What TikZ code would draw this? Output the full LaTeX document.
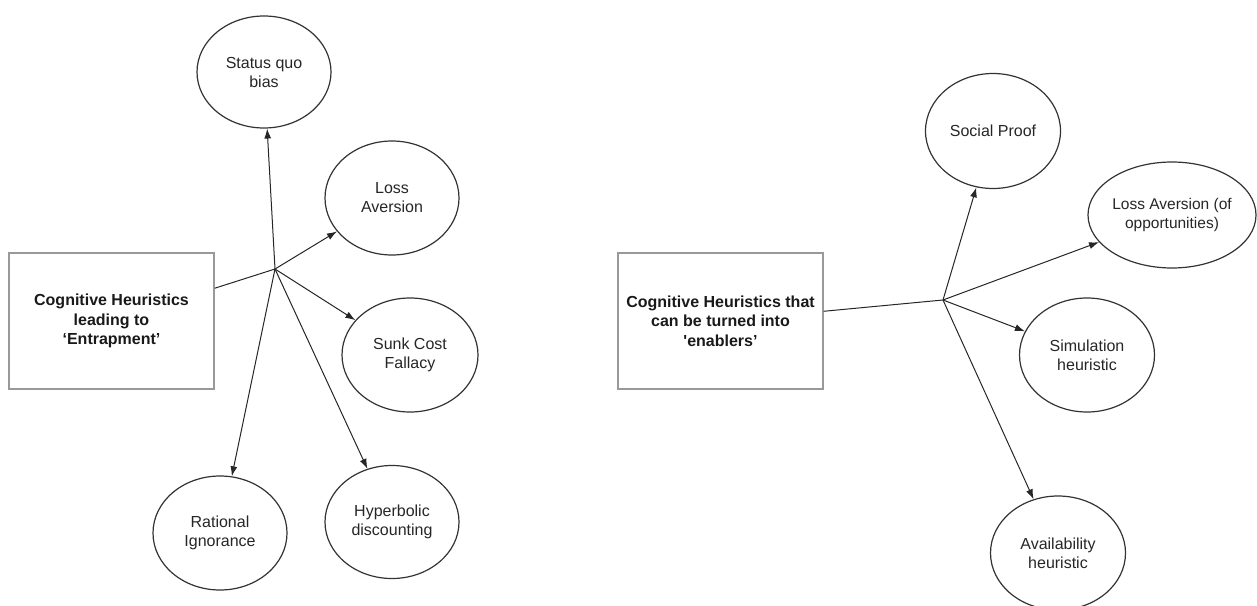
\documentclass[tikz,border=0pt]{standalone}
\usepackage{fontspec}
\setmainfont{Liberation Sans}
\usetikzlibrary{shapes.geometric,arrows.meta}

\begin{document}
\begin{tikzpicture}[x=1pt,y=-1pt,font=\fontsize{16}{19}\selectfont,
    heur/.style={draw=black!80,line width=1.2pt,ellipse,inner sep=0pt,align=center,text=black!85,minimum width=134pt,minimum height=114pt},
    groupbox/.style={draw=black!40,line width=1.4pt,minimum width=205pt,minimum height=136pt,align=center,font=\fontsize{16}{19.5}\selectfont\bfseries,text=black!90},
    arr/.style={-{Latex[length=10pt,width=7pt]},line width=1pt,black!85}]
      \useasboundingbox (0,0) rectangle (1257,605);
      % left group
      \node[groupbox] (entr) at (111.5,321) {Cognitive Heuristics\\leading to\\`Entrapment'};
      \coordinate (hubL) at (275,269);
      \node[heur,minimum height=112pt] (sqb) at (264,72) {Status quo\\bias};
      \node[heur] (loss) at (392,198) {Loss\\Aversion};
      \node[heur,minimum width=136pt] (sunk) at (410,355) {Sunk Cost\\Fallacy};
      \node[heur] (ratio) at (220,533) {Rational\\Ignorance};
      \node[heur,minimum height=113pt] (hyper) at (392,522) {Hyperbolic\\discounting};
      \draw[line width=1pt,black!85] (entr) -- (hubL);
      \foreach \t in {sqb,loss,sunk,ratio,hyper}
        \draw[arr] (hubL) -- (\t);
      % right group
      \node[groupbox] (enab) at (720.5,321) {Cognitive Heuristics that\\can be turned into\\\textquotesingle enablers'};
      \coordinate (hubR) at (943,300);
      \node[heur,minimum width=135pt,minimum height=115pt] (social) at (993,131) {Social Proof};
      \node[heur,minimum width=168pt,minimum height=106pt,inner xsep=-4pt,font=\fontsize{15.5}{19}\selectfont] (lossop) at (1172,215) {Loss Aversion (of\\opportunities)};
      \node[heur,minimum width=135pt] (simul) at (1087,355) {Simulation\\heuristic};
      \node[heur,minimum width=135pt] (avail) at (1058,553) {Availability\\heuristic};
      \draw[line width=1pt,black!85] (enab) -- (hubR);
      \foreach \t in {social,lossop,simul,avail}
        \draw[arr] (hubR) -- (\t);
    \end{tikzpicture}
\end{document}
